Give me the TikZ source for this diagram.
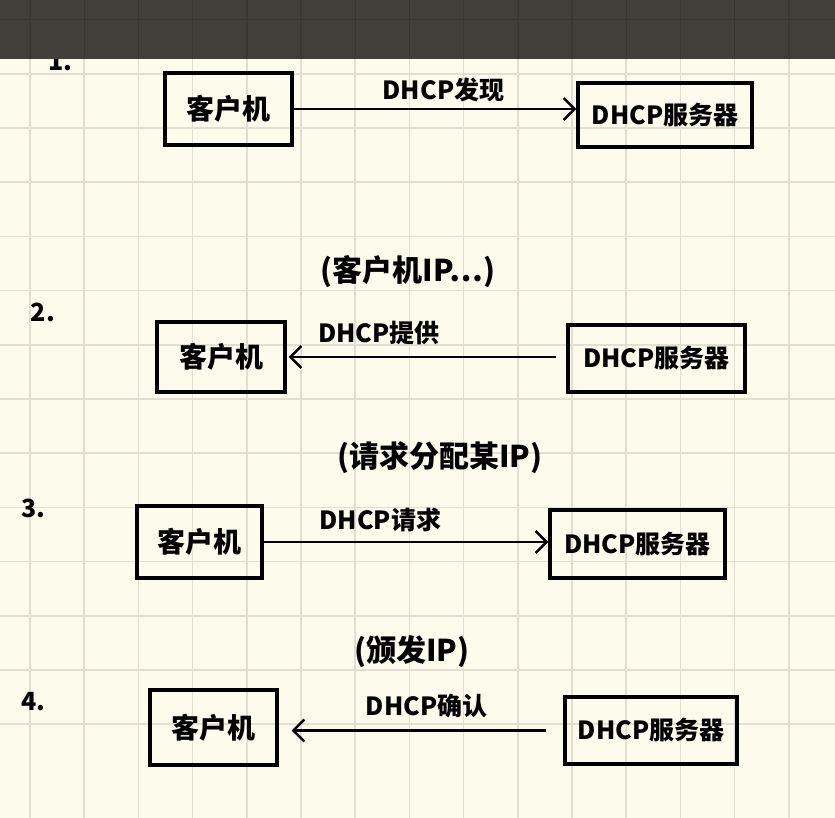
\documentclass[tikz,border=0pt]{standalone}
\usepackage{fontspec}
\setmainfont{Noto Sans CJK SC}
\usetikzlibrary{arrows.meta}
\definecolor{paper}{HTML}{FDFBEC}
\definecolor{gridc}{HTML}{E2DFD2}
\definecolor{band}{HTML}{403F3A}
\definecolor{bandgrid}{HTML}{383732}
\tikzset{
  box/.style={draw=black, line width=3.4pt, inner sep=0pt, font=\fontsize{25}{28}\selectfont\bfseries},
  cbox/.style={box, font=\fontsize{28}{30}\selectfont\bfseries},
  arr/.style={line width=2.4pt, -{Straight Barb[length=11pt,width=22pt,line width=2.4pt]}},
  lbl/.style={font=\fontsize{25}{28}\selectfont\bfseries, inner sep=0pt},
  plbl/.style={font=\fontsize{30}{32}\selectfont\bfseries, inner sep=0pt},
  num/.style={font=\fontsize{25}{28}\selectfont\bfseries, inner sep=0pt}
}
\begin{document}
\begin{tikzpicture}[x=1pt,y=-1pt]
\useasboundingbox (0,0) rectangle (835,818);
\fill[paper] (0,0) rectangle (835,818);
% grid
\foreach \i in {0,...,14} {\draw[gridc, line width=1.6pt] ({30+54.2*\i},0) -- ({30+54.2*\i},818);}
\foreach \j in {0,...,13} {\draw[gridc, line width=1.6pt] (0,{19.6+54.2*\j}) -- (835,{19.6+54.2*\j});}
% step numbers
\node[num] (n1) at (60,62) {1.};
% dark band
\fill[band] (0,0) rectangle (835,59);
\foreach \i in {0,...,14} {\draw[bandgrid, line width=1.4pt] ({30+54.2*\i},0) -- ({30+54.2*\i},59);}
\draw[bandgrid, line width=1.4pt] (0,19.6) -- (835,19.6);
\node[num] (n2) at (45,312) {2.\,};
\node[num] (n3) at (33,508) {3.};
\node[num] (n4) at (33,702) {4.};
% row 1
\node[cbox, minimum width=127, minimum height=72] (c1) at (228.5,109) {客户机};
\node[box, minimum width=174, minimum height=64] (s1) at (665,115) {DHCP服务器};
\draw[arr] (c1.east) -- (c1.east -| s1.west) node[lbl, pos=0.53, yshift=19pt] (l1) {DHCP发现};
% row 2
\node[plbl] (p2) at (408,272) {(客户机IP…)};
\node[cbox, minimum width=128, minimum height=70] (c2) at (221,357) {客户机};
\node[box, minimum width=177, minimum height=67] (s2) at (656.5,358.5) {DHCP服务器};
\draw[arr, shorten <=10pt, shorten >=2pt] (s2.west |- c2.east) -- (c2.east) node[lbl, pos=0.67, yshift=24pt] (l2) {DHCP提供};
% row 3
\node[plbl] (p3) at (440,458) {(请求分配某IP)};
\node[cbox, minimum width=125, minimum height=72] (c3) at (199.5,542) {客户机};
\node[box, minimum width=175, minimum height=68] (s3) at (637.5,544) {DHCP服务器};
\draw[arr] (c3.east) -- (c3.east -| s3.west) node[lbl, pos=0.41, yshift=22pt] (l3) {DHCP请求};
% row 4
\node[plbl] (p4) at (412,652) {(颁发IP)};
\node[cbox, minimum width=127, minimum height=75] (c4) at (213.5,727.5) {客户机};
\node[box, minimum width=172, minimum height=67] (s4) at (651,730.5) {DHCP服务器};
\draw[arr, shorten <=17pt, shorten >=13pt] (s4.west) -- (s4.west -| c4.east) node[lbl, pos=0.48, yshift=25pt] (l4) {DHCP确认};
\end{tikzpicture}
\end{document}
